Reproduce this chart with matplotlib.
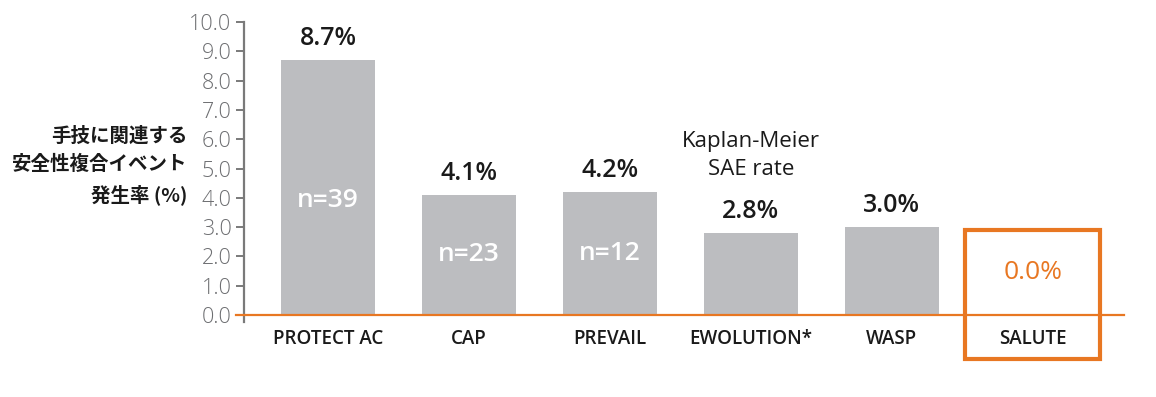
import matplotlib.pyplot as plt
from matplotlib.patches import Rectangle

plt.rcParams['font.family'] = ['Open Sans', 'Noto Sans CJK JP', 'DejaVu Sans']

# --- data ---
studies = ['PROTECT AC', 'CAP', 'PREVAIL', 'EWOLUTION*', 'WASP', 'SALUTE']
rates = [8.7, 4.1, 4.2, 2.8, 3.0, 0.0]
n_labels = ['n=39', 'n=23', 'n=12', '', '', '']
yticks = [0, 1, 2, 3, 4, 5, 6, 7, 8, 9, 10]
ylabel = '手技に関連する\n安全性複合イベント\n発生率 (%)'
km_note = 'Kaplan-Meier\nSAE rate'

GREY = '#bcbdc0'
ORANGE = '#e87722'
AXIS = '#7a7a7a'

fig = plt.figure(figsize=(11.56, 3.97), dpi=100)
ax = fig.add_axes([0.211, 0.188, 0.761, 0.7564])

x = list(range(len(studies)))
highlight = len(studies) - 1
ax.bar(x[:highlight], rates[:highlight], width=0.67, color=GREY)

ax.set_xlim(-0.596, 5.645)
ax.set_ylim(-0.25, 10)

# value labels
for i, v in enumerate(rates):
    if i == highlight:
        ax.text(i, 1.45, f'{v:.1f}%', ha='center', va='center', fontsize=19,
                color=ORANGE)
    else:
        ax.text(i, v + 0.3, f'{v:.1f}%', ha='center', va='bottom', fontsize=18,
                color='#1a1a1a', fontweight='semibold')
    if n_labels[i]:
        ax.text(i, min(v / 2, 3.9), n_labels[i], ha='center', va='center',
                fontsize=19, color='white', fontweight='semibold')

ax.text(3, 5.45, km_note, ha='center', va='center', fontsize=16,
        color='#1a1a1a', linespacing=1.45)

# orange baseline
ax.plot([-0.655, 5.645], [0, 0], color=ORANGE, lw=1.6, clip_on=False, zorder=3)

# highlight box around SALUTE
ax.add_patch(Rectangle((highlight - 0.48, -1.5), 0.96, 4.4, fill=False,
                       edgecolor=ORANGE, lw=3, clip_on=False, zorder=4))

# axes styling
for s in ['top', 'right', 'bottom']:
    ax.spines[s].set_visible(False)
ax.spines['left'].set_color(AXIS)
ax.spines['left'].set_linewidth(1.6)
ax.spines['left'].set_bounds(-0.25, 10)
ax.set_yticks(yticks)
ax.set_yticklabels([f'{t:.1f}' for t in yticks], fontweight='light')
ax.tick_params(axis='y', colors=AXIS, labelsize=15.5, length=6, width=1.4,
               labelcolor='#6d6e71', pad=3)
ax.set_xticks(x)
ax.set_xticklabels(studies, fontsize=13.5, color='#1a1a1a', fontweight='semibold')
ax.tick_params(axis='x', length=0, pad=5)

fig.text(0.162, 0.582, ylabel, ha='right', va='center', fontsize=14,
         color='#1a1a1a', fontweight='semibold', linespacing=1.6,
         family=['Noto Sans CJK JP', 'DejaVu Sans'])

fig.savefig('out.png', dpi=100)
